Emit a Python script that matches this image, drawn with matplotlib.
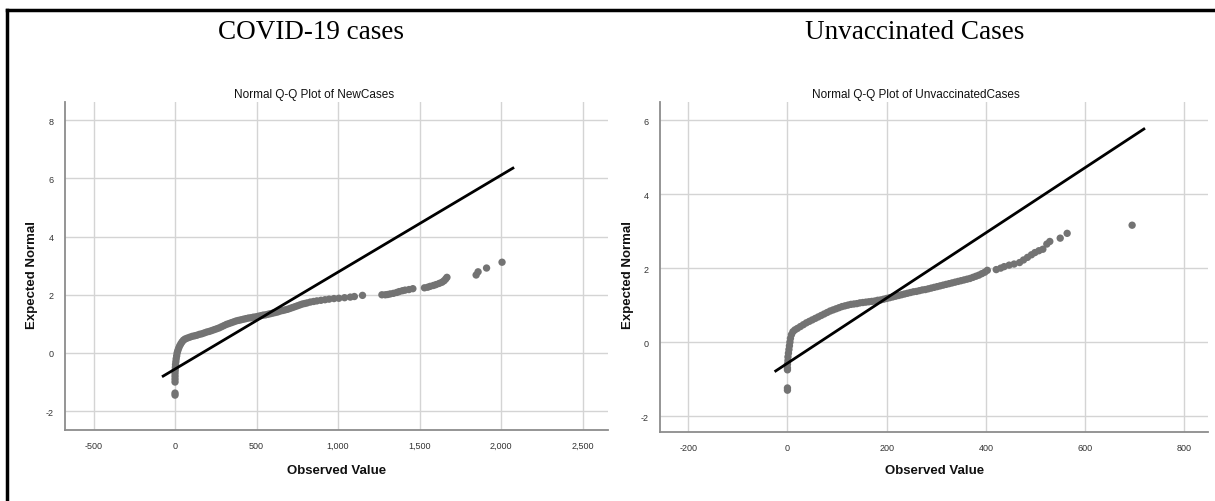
import matplotlib
matplotlib.use('Agg')
import matplotlib.pyplot as plt
from matplotlib.lines import Line2D
import numpy as np

plt.rcParams['axes.unicode_minus'] = False

# ---- data ----
new_obs = [0, 0, 0, 0, 0, 0, 1, 2, 3, 5, 7, 10, 13, 17, 22, 28, 35, 43, 52, 62,
           75, 90, 105, 120, 135, 150, 165, 180, 195, 210, 225, 240, 255, 270, 285,
           300, 315, 330, 345, 360, 375, 390, 405, 420, 435, 450, 465, 480, 495,
           510, 525, 540, 555, 570, 585, 600, 615, 630, 645, 660, 675, 690, 705,
           720, 735, 750, 765, 780, 795, 810, 830, 850, 870, 895, 920, 945, 975,
           1005, 1040, 1075, 1100, 1150, 1269, 1290, 1304, 1320, 1340, 1360, 1375,
           1395, 1411, 1435, 1459, 1530, 1550, 1565, 1585, 1601, 1620, 1637, 1650,
           1660, 1668, 1847, 1859, 1911, 2006]
new_exp = [-1.45, -1.38, -1.0, -0.9, -0.8, -0.7, -0.6, -0.5, -0.4, -0.3, -0.2, -0.1,
           0.0, 0.08, 0.16, 0.24, 0.31, 0.38, 0.44, 0.48, 0.51, 0.54, 0.57, 0.59,
           0.61, 0.64, 0.66, 0.69, 0.72, 0.74, 0.77, 0.80, 0.83, 0.86, 0.90, 0.94,
           0.98, 1.01, 1.04, 1.07, 1.10, 1.12, 1.14, 1.16, 1.18, 1.20, 1.21, 1.23,
           1.24, 1.26, 1.28, 1.30, 1.31, 1.33, 1.35, 1.37, 1.39, 1.41, 1.44, 1.46,
           1.48, 1.50, 1.53, 1.56, 1.59, 1.62, 1.65, 1.68, 1.70, 1.72, 1.75, 1.77,
           1.79, 1.81, 1.83, 1.85, 1.87, 1.88, 1.90, 1.92, 1.94, 1.98, 2.00, 2.00,
           2.01, 2.03, 2.05, 2.08, 2.11, 2.14, 2.16, 2.18, 2.21, 2.24, 2.26, 2.29,
           2.32, 2.35, 2.39, 2.43, 2.48, 2.54, 2.60, 2.68, 2.79, 2.92, 3.12]
new_line_x = [-80, 2080]
new_line_y = [-0.82, 6.38]

unv_obs = [0, 0, 0, 0, 0, 1, 1, 2, 3, 4, 5, 6, 8, 11, 15, 20, 26, 32, 38, 44, 50,
           56, 62, 68, 74, 80, 86, 92, 98, 104, 110, 116, 122, 128, 134, 140, 146,
           152, 158, 164, 170, 176, 182, 188, 194, 200, 206, 212, 218, 224, 230,
           236, 242, 248, 254, 260, 266, 272, 278, 284, 290, 296, 302, 308, 314,
           320, 326, 332, 338, 344, 350, 356, 362, 368, 374, 380, 386, 392, 398,
           403, 421, 430, 437, 447, 457, 468, 476, 484, 492, 499, 507, 515, 523,
           529, 550, 564, 695]
unv_exp = [-1.30, -1.24, -0.75, -0.70, -0.60, -0.50, -0.40, -0.30, -0.20, -0.10,
           0.0, 0.10, 0.20, 0.28, 0.33, 0.37, 0.42, 0.47, 0.52, 0.56, 0.60, 0.64,
           0.68, 0.72, 0.76, 0.80, 0.84, 0.87, 0.90, 0.93, 0.96, 0.98, 1.00, 1.02,
           1.03, 1.04, 1.06, 1.07, 1.08, 1.09, 1.10, 1.11, 1.13, 1.14, 1.16, 1.18,
           1.20, 1.22, 1.24, 1.26, 1.28, 1.30, 1.32, 1.34, 1.36, 1.37, 1.39, 1.41,
           1.42, 1.44, 1.46, 1.48, 1.50, 1.52, 1.54, 1.56, 1.58, 1.60, 1.62, 1.64,
           1.66, 1.68, 1.70, 1.72, 1.75, 1.78, 1.81, 1.85, 1.89, 1.94, 1.96, 2.00,
           2.04, 2.08, 2.11, 2.15, 2.22, 2.29, 2.36, 2.42, 2.47, 2.51, 2.65, 2.72,
           2.81, 2.94, 3.16]
unv_line_x = [-26, 721]
unv_line_y = [-0.80, 5.78]

new_xticks = [-500, 0, 500, 1000, 1500, 2000, 2500]
new_xlabels = ['-500', '0', '500', '1,000', '1,500', '2,000', '2,500']
new_yticks = [-2, 0, 2, 4, 6, 8]
unv_xticks = [-200, 0, 200, 400, 600, 800]
unv_yticks = [-2, 0, 2, 4, 6]

SANS = ['Liberation Sans Narrow', 'Liberation Sans', 'DejaVu Sans']
DOT = '#737373'
GRID = '#d4d4d4'
SPINE = '#8c8c8c'

W, H = 1215, 502
fig = plt.figure(figsize=(W / 100, H / 100), dpi=100)


def px_box(x0, x1, y0, y1):
    return [x0 / W, 1 - y1 / H, (x1 - x0) / W, (y1 - y0) / H]


def qq_panel(rect, obs, exp, lx, ly, xticks, xlabels, yticks, xlim, ylim):
    ax = fig.add_axes(rect)
    ax.scatter(obs, exp, s=28, color=DOT, edgecolors='none', zorder=3)
    ax.plot(lx, ly, color='black', lw=2.0, zorder=4, solid_capstyle='butt')
    ax.set_xlim(*xlim)
    ax.set_ylim(*ylim)
    ax.set_xticks(xticks)
    ax.set_xticklabels(xlabels)
    ax.set_yticks(yticks)
    ax.grid(True, color=GRID, lw=1.0, zorder=0)
    ax.set_axisbelow(True)
    for s in ('top', 'right'):
        ax.spines[s].set_visible(False)
    for s in ('left', 'bottom'):
        ax.spines[s].set_color(SPINE)
        ax.spines[s].set_linewidth(1.3)
    ax.tick_params(length=0, labelsize=6.5, labelcolor='#333333', pad=8)
    for lab in ax.get_xticklabels() + ax.get_yticklabels():
        lab.set_family(SANS)
    ax.set_xlabel('Observed Value', family=SANS, fontsize=9.5, fontweight='bold', color='#111111')
    ax.set_ylabel('Expected Normal', family=SANS, fontsize=9.5, fontweight='bold', color='#111111')
    return ax


ax1 = qq_panel(px_box(65, 608, 103, 431), new_obs, new_exp, new_line_x, new_line_y,
               new_xticks, new_xlabels, new_yticks, (-675, 2656), (-2.65, 8.63))
ax1.xaxis.set_label_coords((337 - 65) / 543, -(465 - 431) / 328)
ax1.yaxis.set_label_coords((38 - 65) / 543, (431 - 275) / 328)

ax2 = qq_panel(px_box(660, 1208, 103, 433), unv_obs, unv_exp, unv_line_x, unv_line_y,
               unv_xticks, [str(t) for t in unv_xticks], unv_yticks, (-257, 848), (-2.43, 6.49))
ax2.xaxis.set_label_coords((935 - 660) / 548, -(465 - 433) / 330)
ax2.yaxis.set_label_coords((634 - 660) / 548, (433 - 275) / 330)

# headings
fig.text(311 / W, 1 - 33 / H, 'COVID-19 cases', family='Liberation Serif',
         fontsize=19.5, ha='center', va='center')
fig.text(915 / W, 1 - 33 / H, 'Unvaccinated Cases', family='Liberation Serif',
         fontsize=19.5, ha='center', va='center')
fig.text(314 / W, 1 - 95 / H, 'Normal Q-Q Plot of NewCases', family=SANS,
         fontsize=8.5, ha='center', va='center', color='#111111')
fig.text(916 / W, 1 - 95 / H, 'Normal Q-Q Plot of UnvaccinatedCases', family=SANS,
         fontsize=8.5, ha='center', va='center', color='#111111')

# frame lines (top and left edge of the table cell)
fig.add_artist(Line2D([7 / W, 1], [1 - 11 / H, 1 - 11 / H], color='black', lw=2.5))
fig.add_artist(Line2D([7 / W, 7 / W], [0, 1 - 11 / H], color='black', lw=2.5))

fig.savefig('out.png', dpi=100)
